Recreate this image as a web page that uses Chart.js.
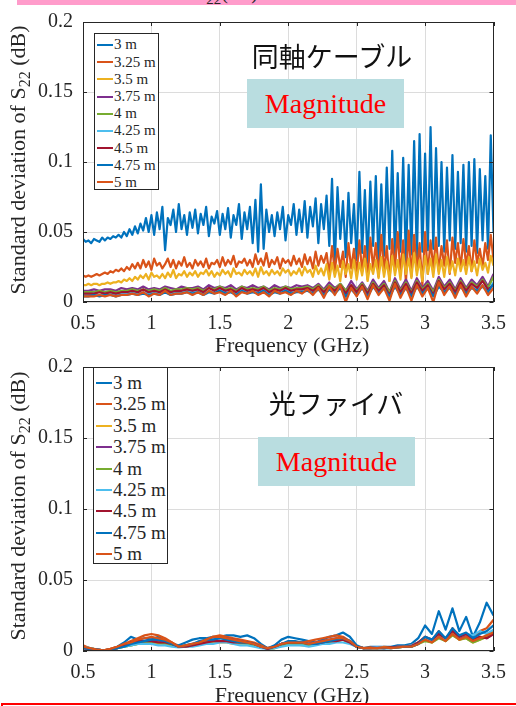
<!DOCTYPE html>
<html>
<head>
<meta charset="utf-8">
<script src="https://cdn.jsdelivr.net/npm/chart.js@4.4.1/dist/chart.umd.min.js"></script>
<style>
  body { margin: 0; background: #fff; }
  #wrap { position: relative; width: 516px; height: 706px; overflow: hidden; background: #fff; }
  canvas { position: absolute; left: 0; }
  .ov { position: absolute; z-index: 5; }
  .serif { font-family: "Liberation Serif", "Times New Roman", serif; color: #262626; }
  .ytitle { font-size: 22px; white-space: nowrap; transform: translate(-50%, -50%) rotate(-90deg); line-height: 24px; }
  .ytitle sub { font-size: 16px; vertical-align: -5px; line-height: 0; }
  .xtitle { font-size: 22px; line-height: 22px; white-space: nowrap; transform: translateX(-50%); }
  .jp { font-family: "Noto Sans CJK JP", sans-serif; color: #111; white-space: nowrap; transform: translate(-50%, -50%); }
  .mag { background: #b9dde0; display: flex; align-items: center; justify-content: center;
         font-family: "Liberation Serif", "Times New Roman", serif; color: #ff0000; font-size: 28px; }
  .legend { background: #fff; border: 1px solid #262626; box-sizing: border-box;
            font-family: "Liberation Serif", serif; color: #262626; }
  .legend .row { display: flex; align-items: center; white-space: nowrap; }
  .legend .sw { height: 2px; margin-right: 1px; }
</style>
</head>
<body>
<div id="wrap">
  <canvas id="topChart" width="516" height="340" style="top:0"></canvas>
  <canvas id="botChart" width="516" height="361" style="top:345px"></canvas>
</div>
<script>
// S22 std deviation vs frequency — coax (top) vs optical fiber (bottom)
const $ = (id) => document.getElementById(id);

const names = ["3 m", "3.25 m", "3.5 m", "3.75 m", "4 m", "4.25 m", "4.5 m", "4.75 m", "5 m"];
const colors = ["#0072BD", "#D95319", "#EDB120", "#7E2F8E", "#77AC30", "#4DBEEE", "#A2142F", "#0072BD", "#D95319"];
const xTicks = [0.5, 1, 1.5, 2, 2.5, 3, 3.5];
const yTicks = [0, 0.05, 0.1, 0.15, 0.2];

// frequency grids (GHz): 0.02 step for the upper coax traces, 0.04 for the low ones, 0.05 for fiber
const fTop = Array.from({ length: 151 }, (_, i) => +(0.5 + i * 0.02).toFixed(2));
const fLow = Array.from({ length: 76 }, (_, i) => +(0.5 + i * 0.04).toFixed(2));
const fBot = Array.from({ length: 61 }, (_, i) => +(0.5 + i * 0.05).toFixed(2));

// values in units of 1e-3 dB
// --- coax (同軸ケーブル)
const coax3m = [
  45,43,44,42,45,44,43,46,44,46, 45,47,46,48,46,50,47,52,48,54,
  49,56,51,60,50,62,48,64,52,68, 37,60,55,66,50,70,52,62,48,64,
  53,66,49,63,55,68,47,61,56,65, 48,63,52,67,46,62,55,70,45,64,
  52,68,42,73,36,84,38,66,50,62, 47,64,52,68,44,62,55,70,48,66,
  50,72,46,68,54,74,42,70,52,76, 40,88,25,82,45,72,32,78,42,70,
  30,93,35,80,28,86,40,90,26,84, 33,96,38,108,30,92,36,103,28,98,
  34,115,30,120,36,106,37,125,38,110, 40,100,36,96,44,105,38,93,42,98,
  36,100,40,102,35,95,44,90,38,119, 50];
const coax325m = [
  19,18,19,18,19,20,19,20,21,20, 22,21,23,22,24,22,25,23,27,24,
  28,24,30,25,29,23,31,26,28,24, 27,31,25,30,24,29,26,32,25,28,
  24,30,26,29,25,31,24,28,27,30, 25,32,26,30,27,33,25,29,28,31,
  26,30,25,34,27,31,26,35,25,30, 27,32,24,31,28,30,26,33,27,31,
  25,34,27,32,24,36,26,33,28,35, 20,40,22,38,25,36,18,42,24,38,
  20,44,22,40,16,46,24,42,18,48, 22,40,15,45,24,50,20,44,14,51,
  18,48,22,42,12,50,20,44,24,46, 22,40,26,44,20,46,28,42,24,45,
  26,40,22,44,28,38,25,42,30,48, 30];
const coax35m = [
  12,12,13,12,13,13,12,13,13,14, 13,14,14,15,14,16,15,17,15,18,
  16,19,17,20,16,21,18,19,17,20, 17,21,18,23,17,20,19,22,18,21,
  19,22,18,21,20,23,19,22,18,21, 19,23,20,22,18,24,20,21,19,23,
  20,22,19,24,18,25,20,22,19,23, 20,22,19,24,21,23,19,22,20,24,
  19,25,21,23,18,26,20,24,19,27, 16,28,18,26,15,29,20,27,17,30,
  16,28,19,31,15,27,20,30,17,32, 18,29,15,33,19,30,16,34,20,31,
  17,35,19,30,15,33,20,31,18,34, 20,30,18,32,21,29,19,31,22,30,
  20,32,22,29,19,31,23,28,21,33, 26];
const coax375m = [
  8,8,9,8,9,9,8,10,9,10, 9,11,9,10,9,11,10,9,11,10, 10,11,9,12,10,11,10,12,9,11,
  10,12,10,11,9,12,10,11,10,12, 11,12,10,13,9,14,10,13,8,15, 9,14,8,16,10,15,7,17,9,16,
  8,17,10,15,8,18,11,16,9,17, 10,16,12,18,11,20];
const coax4m = [
  7,7,7,8,7,8,7,8,8,9, 8,9,8,9,8,10,8,9,9,10, 9,10,8,10,9,11,9,10,8,11,
  9,10,9,11,8,10,9,11,9,10, 10,11,9,12,8,12,9,13,8,12, 8,13,7,14,9,13,7,15,8,14,
  7,15,9,13,7,16,10,14,8,15, 9,14,11,16,10,18];
const coax425m = [
  5,5,6,5,6,6,5,6,6,7, 6,7,6,7,6,8,6,7,7,8, 7,8,6,8,7,9,7,8,6,9,
  7,8,7,9,6,8,7,9,7,8, 8,9,7,10,6,10,7,11,3,10, 6,11,5,12,7,11,5,12,6,11,
  5,13,7,11,5,12,8,11,6,12, 7,11,9,12,8,14];
const coax45m = [
  6,6,6,7,6,7,6,7,7,8, 7,9,7,8,7,9,7,8,8,9, 8,9,7,10,8,10,8,9,7,10,
  8,9,8,10,7,9,8,10,8,9, 9,10,8,11,7,11,8,12,6,12, 7,12,6,13,8,12,5,14,7,13,
  6,14,8,12,5,15,9,13,7,14, 8,13,10,15,9,12];
const coax475m = [
  4,4,5,4,5,5,4,5,5,6, 5,6,5,6,5,7,5,6,6,7, 6,7,5,7,6,8,6,7,5,8,
  6,7,6,8,5,7,6,8,6,7, 7,8,6,9,5,9,6,10,4,9, 5,10,4,11,6,10,4,11,5,10,
  4,11,6,10,4,11,7,10,5,11, 6,10,8,11,7,13];
const coax5m = [
  4,4,4,5,4,5,4,5,5,6, 5,7,4,6,5,8,5,6,6,7, 5,7,5,8,6,7,5,8,4,7,
  6,8,5,7,4,8,6,7,5,8, 6,9,5,10,3,11,5,12,0,10, 4,11,2,12,5,10,1,13,3,11,
  1,12,4,10,0,14,5,11,3,12, 4,11,6,12,5,10];

// --- optical fiber (光ファイバ)
const fiber3m = [
  3,2,1,0.5,1,3,6,10,8,9, 8,10,7,5,4,6,8,9,9,10, 10,11,11,10,11,9,5,2,4,8,
  10,9,8,7,6,8,10,11,13,10, 4,2,3,3,3,3,4,4,5,9, 18,12,28,15,30,14,24,10,20,34, 25];
const fiber325m = [
  4,2,1,0.5,1.5,3,5,7,9,11, 12,11,9,6,3,4,5,6,7,10, 11,10,9,8,7,6,4,2,3,5,
  6,5,6,7,8,9,10,11,10,7, 3,2,2.5,2,3,2.5,3,3,4,6, 10,7,14,8,16,10,12,7,14,16, 22];
const fiber35m = [
  2,1.5,1,0.5,1,2,3,4,5,6, 6,5,5,4,3,3,4,5,5,6, 6,6,5,5,5,4,3,1.5,2,4,
  5,5,4,4,5,6,7,8,8,6, 3,2,2,2,2.5,2,2.5,3,3,5, 8,6,10,7,12,8,9,6,8,10, 14];
const fiber375m = [
  2,1.5,1,0.5,1,2,4,5,6,7, 8,7,6,5,3,3,4,5,6,8, 9,9,8,7,6,5,3,1.5,3,5,
  6,6,5,5,6,7,8,9,9,7, 3,2,2,2.5,2,2.5,3,3,3.5,5, 9,7,12,8,14,9,11,7,10,9, 12];
const fiber4m = [
  2.5,2,1,0.5,1,2,3,4,5,6, 6,6,5,4,3,3,4,5,6,7, 7,7,6,6,5,4,3,1.5,2,4,
  5,5,5,4,5,6,6,7,8,6, 3,2,2,2,2,2.5,2.5,3,3,5, 7,6,9,7,11,8,9,6,8,10, 13];
const fiber425m = [
  3,2,1,0.5,1,2,3,4,5,5, 5,4,4,3,2.5,3,3,4,5,5, 6,6,5,4,4,3,2,1.5,2,3,
  4,4,4,3,4,5,5,6,6,5, 3,2,2,2.5,2,2,3,3,4,6, 9,7,12,8,13,10,12,11,14,12, 15];
const fiber45m = [
  2,1.5,1,0.5,1,2,4,6,7,7, 7,6,6,5,3,3,4,5,6,7, 7,7,6,6,6,5,3,1.5,3,5,
  6,6,6,5,5,6,7,7,8,6, 3,2,2,2,2,2.5,3,3,3.5,6, 10,8,12,9,14,10,12,8,10,9, 12];
const fiber475m = [
  2,1.5,1,0.5,1,2,3,5,6,7, 8,8,7,5,3,4,5,7,8,8, 9,8,7,6,6,5,3,2,3,5,
  7,7,6,5,5,6,7,8,9,7, 3,2,2,2,2,2,2.5,3,3,5, 10,8,14,9,16,11,13,9,12,14, 18];
const fiber5m = [
  3,2,1,0.5,1.5,3,5,6,8,9, 10,9,8,6,3,4,5,6,8,10, 10,9,8,7,6,5,3,2,3,5,
  6,6,6,5,6,7,8,9,9,7, 3,2,2,2,2.5,2,2.5,3,3,5, 8,6,10,7,12,8,10,7,9,11, 13];

const coaxSeries = [coax3m, coax325m, coax35m, coax375m, coax4m, coax425m, coax45m, coax475m, coax5m];
const coaxFreqs = [fTop, fTop, fTop, fLow, fLow, fLow, fLow, fLow, fLow];
const fiberSeries = [fiber3m, fiber325m, fiber35m, fiber375m, fiber4m, fiber425m, fiber45m, fiber475m, fiber5m];

const AX = "#262626", GRID = "#dcdcdc";
const fmtTick = (v) => String(+(+v).toFixed(2));

// box around plot + inward tick marks (matlab look)
const boxPlugin = {
  id: "box",
  afterDraw(chart) {
    const { ctx, chartArea: a, scales } = chart;
    ctx.save();
    ctx.strokeStyle = AX; ctx.lineWidth = 1;
    ctx.strokeRect(Math.round(a.left) + 0.5, Math.round(a.top) + 0.5,
      Math.round(a.right - a.left) - 1, Math.round(a.bottom - a.top) - 1);
    ctx.beginPath();
    xTicks.forEach((t) => {
      const x = Math.round(scales.x.getPixelForValue(t)) + 0.5;
      ctx.moveTo(x, a.bottom); ctx.lineTo(x, a.bottom - 4);
      ctx.moveTo(x, a.top); ctx.lineTo(x, a.top + 4);
    });
    yTicks.forEach((t) => {
      const y = Math.round(scales.y.getPixelForValue(t)) + 0.5;
      ctx.moveTo(a.left, y); ctx.lineTo(a.left + 4, y);
      ctx.moveTo(a.right, y); ctx.lineTo(a.right - 4, y);
    });
    ctx.stroke();
    ctx.restore();
  },
};

function makeChart(canvas, series, freqs, padTop, xHeight) {
  const datasets = series.map((vals, i) => ({
    label: names[i],
    data: vals.map((v, j) => ({ x: freqs[i][j], y: v / 1000 })),
    borderColor: colors[i], borderWidth: 2.2, pointRadius: 0, tension: 0,
    borderJoinStyle: "round", order: series.length - i,
  }));
  const tickFont = { family: '"Liberation Serif", "Times New Roman", serif', size: 20 };
  return new Chart(canvas, {
    type: "line",
    data: { datasets },
    options: {
      responsive: false, animation: false,
      layout: { padding: { top: padTop, right: 14, left: 0, bottom: 0 } },
      plugins: { legend: { display: false }, tooltip: { enabled: false } },
      scales: {
        x: {
          type: "linear", min: 0.5, max: 3.5,
          afterBuildTicks: (s) => { s.ticks = xTicks.map((v) => ({ value: v })); },
          afterFit: (s) => { s.height = xHeight; },
          ticks: { font: tickFont, color: AX, padding: 10, maxRotation: 0, callback: fmtTick },
          grid: { color: GRID, drawTicks: false }, border: { display: false },
        },
        y: {
          min: 0, max: 0.2,
          afterBuildTicks: (s) => { s.ticks = yTicks.map((v) => ({ value: v })); },
          afterFit: (s) => { s.width = 83; },
          ticks: { font: tickFont, color: AX, padding: 10, callback: fmtTick },
          grid: { color: GRID, drawTicks: false }, border: { display: false },
        },
      },
    },
    plugins: [boxPlugin],
  });
}

makeChart($("topChart"), coaxSeries, coaxFreqs, 13, 38);
makeChart($("botChart"), fiberSeries, fiberSeries.map(() => fBot), 16, 55);

// overlays: titles, annotations, legends
const wrap = $("wrap");
function add(html, cls, style) {
  const d = document.createElement("div");
  d.className = "ov " + (cls || "");
  d.innerHTML = html;
  Object.assign(d.style, style);
  wrap.appendChild(d);
  return d;
}

function legend(left, top, w, h, rowH, padTop, fontSize) {
  const box = add("", "legend", { left: left + "px", top: top + "px", width: w + "px",
    height: h + "px", paddingTop: padTop + "px", fontSize: fontSize + "px" });
  names.forEach((n, i) => {
    const r = document.createElement("div");
    r.className = "row";
    r.style.height = rowH + "px";
    r.style.paddingLeft = "2px";
    r.innerHTML = `<span class="sw" style="width:16px;background:${colors[i]}"></span><span>${n}</span>`;
    box.appendChild(r);
  });
}

// pink strip + clipped caption left over at the very top
add(`<span class="serif" style="position:absolute;left:178px;top:-19px;font-size:20px;">S<sub style="font-size:15px">22</sub>(dB)</span>`,
  "", { left: "17px", top: "0px", width: "499px", height: "5px", background: "#ff9ccb", overflow: "hidden" });

// top chart
add("Standard deviation of S<sub>22</sub> (dB)", "serif ytitle", { left: "18px", top: "160px" });
add("Frequency (GHz)", "serif xtitle", { left: "292px", top: "334px" });
add("同軸ケーブル", "jp", { left: "332px", top: "55px", fontSize: "27px" });
add("Magnitude", "mag", { left: "247px", top: "79px", width: "157px", height: "49px" });
legend(94, 33, 65, 157, 17.2, 2.4, 15);

// bottom chart
add("Standard deviation of S<sub>22</sub> (dB)", "serif ytitle", { left: "18px", top: "506px" });
add("Frequency (GHz)", "serif xtitle", { left: "292px", top: "684px" });
add("光ファイバ", "jp", { left: "336px", top: "402px", fontSize: "27px" });
add("Magnitude", "mag", { left: "258px", top: "437px", width: "157px", height: "49px" });
legend(93, 367, 75, 197, 21.4, 4.3, 19);

// red frame edge at the bottom
add("", "", { left: "1px", top: "703px", width: "515px", height: "3px", background: "#fff",
  borderTop: "2px solid #ff0000", borderLeft: "2px solid #ff0000", zIndex: 10 });
</script>
</body>
</html>
